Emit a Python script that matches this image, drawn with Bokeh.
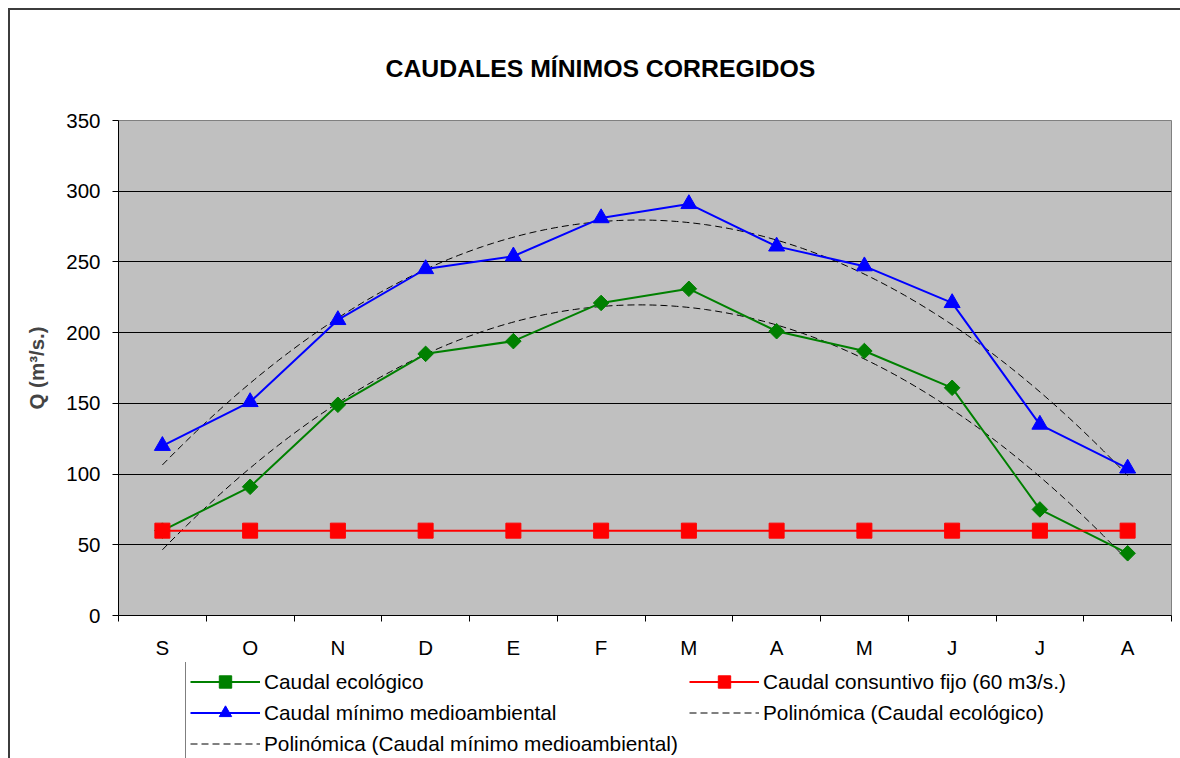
import numpy as np
from bokeh.plotting import figure
from bokeh.layouts import column
from bokeh.models import FixedTicker, Legend, LegendItem
from bokeh.embed import file_html
from bokeh.resources import INLINE

# ---------------- data ----------------
months = ["S", "O", "N", "D", "E", "F", "M", "A", "M", "J", "J", "A"]
caudal_ecologico = [60, 91, 149, 185, 194, 221, 231, 201, 187, 161, 75, 44]
caudal_consuntivo = [60, 60, 60, 60, 60, 60, 60, 60, 60, 60, 60, 60]
caudal_minimo = [120, 151, 209, 245, 254, 281, 291, 261, 247, 221, 135, 104]
y_ticks = [0, 50, 100, 150, 200, 250, 300, 350]

FONT = "Liberation Sans"
GREEN, RED, BLUE = "#008000", "#FF0000", "#0000FF"
DASH = "7 4"

xpos = np.arange(len(months)) + 0.5

# Excel-style polynomial (order 2) trend lines of the two series
xs = np.linspace(xpos[0], xpos[-1], 200)
trend_eco = np.polyval(np.polyfit(xpos, caudal_ecologico, 2), xs)
trend_min = np.polyval(np.polyfit(xpos, caudal_minimo, 2), xs)


def draw_series(fig):
    r = {}
    r["t_eco"] = fig.line(xs, trend_eco, line_color="black", line_width=1, line_dash=DASH)
    r["t_min"] = fig.line(xs, trend_min, line_color="black", line_width=1, line_dash=DASH)
    r["l_eco"] = fig.line(xpos, caudal_ecologico, line_color=GREEN, line_width=2)
    r["s_eco"] = fig.scatter(xpos, caudal_ecologico, marker="square", size=11, angle=np.pi / 4,
                             fill_color=GREEN, line_color=GREEN)
    r["l_con"] = fig.line(xpos, caudal_consuntivo, line_color=RED, line_width=2)
    r["s_con"] = fig.scatter(xpos, caudal_consuntivo, marker="square", size=15,
                             fill_color=RED, line_color=RED)
    r["l_min"] = fig.line(xpos, caudal_minimo, line_color=BLUE, line_width=2)
    r["s_min"] = fig.scatter(xpos, caudal_minimo, marker="triangle", size=16,
                             fill_color=BLUE, line_color=BLUE)
    return r


# ---------------- main chart ----------------
p = figure(width=1170, height=652, x_range=(0, len(months)), y_range=(0, 350),
           output_backend="svg", toolbar_location=None,
           min_border_left=108, min_border_right=9, min_border_top=110, min_border_bottom=47)
p.background_fill_color = "#C0C0C0"
p.border_fill_color = "white"
p.outline_line_color = "#808080"
p.outline_line_width = 1

xax = p.below[0]
yax = p.left[0]

p.title.text = "CAUDALES MÍNIMOS CORREGIDOS"
p.title.align = "left"
p.title.offset = 267
p.title.standoff = 78
p.title.text_font = FONT
p.title.text_font_size = "24.8px"
p.title.text_font_style = "bold"
p.title.text_color = "black"

# x axis: ticks at category boundaries, labels at centres
xax.ticker = FixedTicker(ticks=list(xpos), minor_ticks=list(range(len(months) + 1)))
xax.major_label_overrides = {float(x): m for x, m in zip(xpos, months)}
xax.major_tick_line_color = None
xax.major_tick_out = 0
xax.major_tick_in = 0
xax.minor_tick_line_color = "black"
xax.minor_tick_out = 6
xax.minor_tick_in = 0
xax.major_label_standoff = 14
p.xgrid.visible = False

yax.ticker = FixedTicker(ticks=y_ticks)
yax.major_tick_out = 6
yax.major_tick_in = 0
yax.minor_tick_line_color = None
yax.major_label_standoff = 12
yax.axis_label = "Q (m³/s.)"
yax.axis_label_text_font = FONT
yax.axis_label_text_font_style = "bold"
yax.axis_label_text_font_size = "20.5px"
yax.axis_label_standoff = 15
p.ygrid.grid_line_color = "black"
p.ygrid.grid_line_width = 1

for ax in (xax, yax):
    ax.axis_line_color = "black"
    ax.axis_line_width = 1
    ax.major_label_text_font = FONT
    ax.major_label_text_font_size = "20.5px"
    ax.major_label_text_color = "black"

draw_series(p)

# ---------------- legend strip ----------------
# same series drawn out of view; only the legend of this strip is visible
q = figure(width=1170, height=96, x_range=(0, len(months)), y_range=(1000, 1001),
           output_backend="svg", toolbar_location=None, min_border=0,
           x_axis_location=None, y_axis_location=None)
q.grid.visible = False
q.outline_line_color = None
q.background_fill_color = "white"
q.border_fill_color = "white"
rq = draw_series(q)

legend = Legend(items=[
    LegendItem(label="Caudal ecológico", renderers=[rq["l_eco"], rq["s_eco"]]),
    LegendItem(label="Caudal mínimo medioambiental", renderers=[rq["l_min"], rq["s_min"]]),
    LegendItem(label="Polinómica (Caudal mínimo medioambiental)", renderers=[rq["t_min"]]),
    LegendItem(label="Caudal consuntivo fijo (60 m3/s.)", renderers=[rq["l_con"], rq["s_con"]]),
    LegendItem(label="Polinómica (Caudal ecológico)", renderers=[rq["t_eco"]]),
], ncols=2, location=(67, -6))
legend.border_line_color = "black"
legend.border_line_width = 1
legend.background_fill_color = "white"
legend.background_fill_alpha = 1
legend.padding = 4
legend.spacing = 0
legend.margin = 0
legend.glyph_width = 70
legend.glyph_height = 31
legend.label_height = 31
legend.label_width = 425
legend.label_standoff = 4
legend.label_text_font = FONT
legend.label_text_font_size = "20.8px"
legend.label_text_color = "black"
q.add_layout(legend)

layout = column(p, q, spacing=0,
                styles={"margin-left": "8px", "margin-top": "8px",
                        "border-left": "2px solid #3c3c3c", "border-top": "2px solid #3c3c3c"})

open("out.html", "w").write(file_html(layout, INLINE))
